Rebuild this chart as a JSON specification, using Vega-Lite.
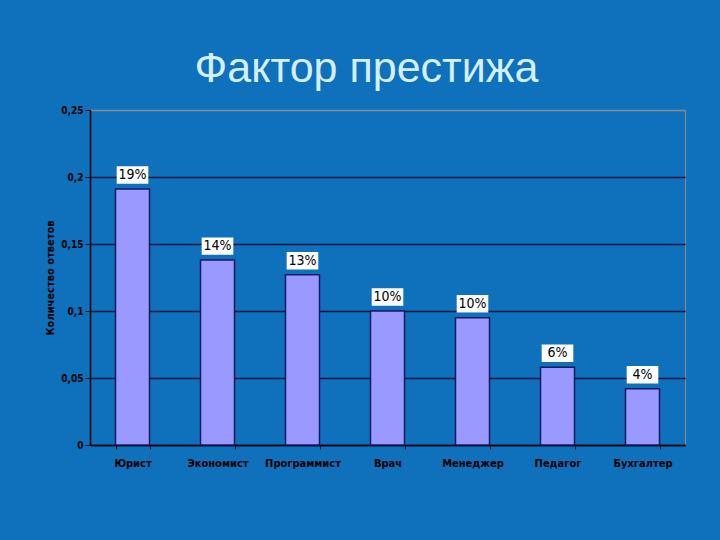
{
  "$schema": "https://vega.github.io/schema/vega-lite/v6.json",
  "width": 595,
  "height": 335,
  "autosize": {"type": "none"},
  "padding": {"left": 90, "top": 110, "right": 35, "bottom": 95},
  "background": "#0f70bb",
  "title": {
    "text": "Фактор престижа",
    "font": "Liberation Sans",
    "fontSize": 43,
    "fontWeight": "normal",
    "color": "#d4efff",
    "anchor": "middle",
    "dx": -21,
    "offset": 14
  },
  "config": {
    "view": {"stroke": "#8c8c8c", "strokeWidth": 1},
    "axis": {
      "labelFont": "Liberation Sans Narrow, DejaVu Sans Condensed, sans-serif",
      "titleFont": "Liberation Sans Narrow, DejaVu Sans Condensed, sans-serif",
      "labelColor": "#000000",
      "titleColor": "#000000",
      "domainColor": "#000000",
      "tickColor": "#000000",
      "labelFontWeight": "bold",
      "titleFontWeight": "bold"
    }
  },
  "data": {
    "values": [
      {"profession": "Юрист", "value": 0.191, "label": "19%"},
      {"profession": "Экономист", "value": 0.138, "label": "14%"},
      {"profession": "Программист", "value": 0.127, "label": "13%"},
      {"profession": "Врач", "value": 0.100, "label": "10%"},
      {"profession": "Менеджер", "value": 0.095, "label": "10%"},
      {"profession": "Педагог", "value": 0.058, "label": "6%"},
      {"profession": "Бухгалтер", "value": 0.042, "label": "4%"}
    ]
  },
  "encoding": {
    "x": {
      "field": "profession",
      "type": "nominal",
      "sort": null,
      "scale": {"paddingInner": 0.6, "paddingOuter": 0.3},
      "axis": {
        "title": null,
        "labelAngle": 0,
        "labelFontSize": 11,
        "labelPadding": 8,
        "tickBand": "extent",
        "tickSize": 4,
        "domainWidth": 1.5
      }
    },
    "y": {
      "field": "value",
      "type": "quantitative",
      "scale": {"domain": [0, 0.25], "nice": false},
      "axis": {
        "title": "Количество ответов",
        "titleFontSize": 11,
        "titlePadding": 5,
        "values": [0, 0.05, 0.1, 0.15, 0.2, 0.25],
        "labelExpr": "replace(toString(datum.value), '.', ',')",
        "labelFontSize": 10,
        "tickSize": 5,
        "domainWidth": 1.5,
        "grid": true,
        "gridColor": {"condition": {"test": "datum.value >= 0.24", "value": "#8c8c8c"}, "value": "#06163a"},
        "gridWidth": 1.4,
        "gridOpacity": 1
      }
    }
  },
  "layer": [
    {
      "mark": {"type": "bar", "fill": "#9999ff", "stroke": "#1a1a5e", "strokeWidth": 1.5}
    },
    {
      "mark": {
        "type": "point",
        "shape": "M-1,-0.55H1V0.55H-1Z",
        "size": 1000,
        "filled": true,
        "fill": "#ffffff",
        "opacity": 1,
        "strokeWidth": 0,
        "yOffset": -14
      }
    },
    {
      "mark": {
        "type": "text",
        "font": "Liberation Sans Narrow, DejaVu Sans Condensed, sans-serif",
        "fontSize": 14,
        "color": "#000000",
        "baseline": "middle",
        "dy": -14
      },
      "encoding": {"text": {"field": "label"}}
    }
  ]
}
